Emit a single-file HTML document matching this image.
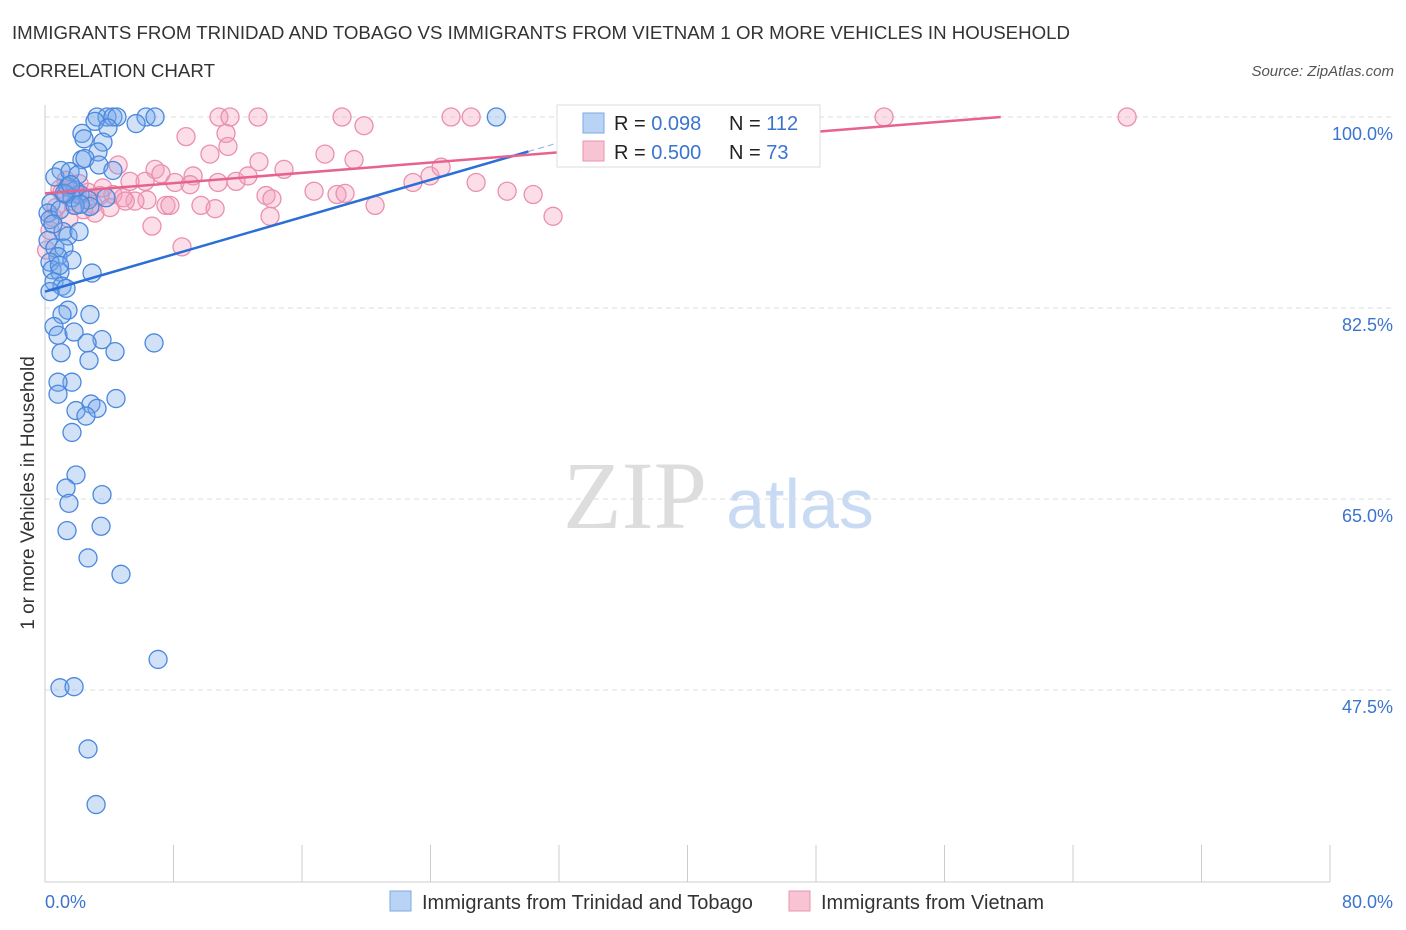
<!DOCTYPE html>
<html><head><meta charset="utf-8"><style>
body{margin:0;background:#fff;font-family:"Liberation Sans",sans-serif;}
svg{display:block}
</style></head><body>
<svg id="c" width="1406" height="930" xmlns="http://www.w3.org/2000/svg">
<text x="12" y="39" font-size="18.5" fill="#333" textLength="1058" lengthAdjust="spacingAndGlyphs">IMMIGRANTS FROM TRINIDAD AND TOBAGO VS IMMIGRANTS FROM VIETNAM 1 OR MORE VEHICLES IN HOUSEHOLD</text>
<text x="12" y="77" font-size="18.5" fill="#333" textLength="203" lengthAdjust="spacingAndGlyphs">CORRELATION CHART</text>
<text x="1394" y="76" font-size="15" fill="#555" font-style="italic" text-anchor="end">Source: ZipAtlas.com</text>
<text x="635" y="528" font-size="96" fill="#ddd" font-family="Liberation Serif,serif" text-anchor="middle">ZIP</text>
<text x="800" y="528" font-size="70" fill="#c9dbf3" text-anchor="middle">atlas</text>
<g id="grid"></g><g id="axes"></g><g id="marks"></g><g id="lines"></g>
<g>
<rect x="557" y="105" width="263" height="62" fill="#fff" stroke="#ddd"/>
<rect x="583" y="113" width="21" height="20" fill="#b9d3f4" stroke="#7aa9e6"/>
<rect x="583" y="141" width="21" height="20" fill="#f8c4d3" stroke="#eb95b0"/>
<text x="614" y="130" font-size="20" fill="#222">R = <tspan fill="#3a74d0">0.098</tspan><tspan x="729">N = </tspan><tspan fill="#3a74d0">112</tspan></text>
<text x="614" y="159" font-size="20" fill="#222">R = <tspan fill="#3a74d0">0.500</tspan><tspan x="729">N = </tspan><tspan fill="#3a74d0"> 73</tspan></text>
</g>
<g>
<rect x="390" y="891" width="21" height="20" fill="#b9d3f4" stroke="#7aa9e6"/>
<text x="422" y="909" font-size="20" fill="#333">Immigrants from Trinidad and Tobago</text>
<rect x="789" y="891" width="21" height="20" fill="#f8c4d3" stroke="#eb95b0"/>
<text x="821" y="909" font-size="20" fill="#333">Immigrants from Vietnam</text>
</g>
</svg>
<script>
const blueX=[3.24,3.86,4.23,4.48,6.29,6.85,28.1,3.11,3.92,5.67,2.30,2.43,3.61,3.30,2.30,2.49,3.36,4.23,1.0,0.62,1.56,2.05,1.43,1.87,2.18,1.31,1.68,2.68,2.80,3.80,0.37,0.19,0.31,0.93,1.87,1.12,1.43,2.12,0.19,0.62,1.18,0.81,0.31,1.68,0.44,0.93,2.93,0.56,1.06,1.31,0.31,1.43,2.80,1.06,0.56,0.81,1.81,3.55,2.62,6.79,1.0,4.36,2.74,1.68,0.81,0.81,4.42,2.86,3.24,1.93,2.55,1.68,1.93,1.31,3.55,1.49,1.37,3.49,2.68,4.73,7.04,0.93,1.81,2.68,3.18,1.2,1.6,2.2,0.5,0.9];
const blueY=[100,100,100,100,100,100,100,99.6,99.0,99.4,98.5,98.0,97.7,96.8,96.1,96.2,95.6,95.1,95.1,94.5,95.0,94.7,93.6,93.3,92.9,92.9,92.6,92.4,91.8,92.6,92.1,91.2,90.6,91.5,91.9,89.5,89.1,89.5,88.7,88.0,88.0,87.2,86.7,86.9,86.0,85.8,85.7,84.9,84.5,84.3,84.0,82.3,81.9,81.9,80.8,80.0,80.3,79.6,79.3,79.3,78.4,78.5,77.7,75.7,75.7,74.6,74.2,73.7,73.3,73.1,72.6,71.1,67.2,66.0,65.4,64.6,62.1,62.5,59.6,58.1,50.3,47.7,47.8,42.1,37.0,93.0,93.8,92.0,90.2,86.4];
const pinkX=[10.83,11.52,13.26,18.49,25.28,26.53,43.15,52.24,67.37,8.78,11.27,11.39,19.86,10.27,13.32,17.43,19.24,14.88,4.55,6.85,7.22,9.22,11.89,12.64,10.77,8.09,6.23,5.29,9.03,22.91,23.97,24.66,26.84,28.77,30.39,16.75,18.18,18.68,13.76,14.13,7.53,7.78,6.35,5.60,4.23,3.42,1.31,0.93,2.68,2.99,1.81,0.68,1.49,9.71,10.59,14.01,20.55,31.63,6.66,8.53,3.11,4.05,4.86,2.12,1.06,0.31,0.1,2.0,3.6,5.0,1.7,0.5,2.4];
const pinkY=[100,100,100,100,100,100,100,100,100,98.2,98.5,97.3,99.2,96.6,95.9,96.6,96.1,95.2,95.6,95.2,94.8,94.6,94.1,94.6,94.0,94.0,94.1,94.1,93.8,94.0,94.6,95.4,94.0,93.2,92.9,93.2,92.9,93.0,92.8,92.5,91.9,91.9,92.4,92.3,92.9,92.8,94.2,93.4,93.1,92.0,91.9,91.7,90.7,91.9,91.6,90.9,91.9,90.9,90.0,88.1,91.2,91.7,92.6,93.9,93.1,89.6,87.8,92.9,93.5,92.3,93.4,90.8,91.5];
const blueLine=[[0,84.0],[37.5,100]];
const pinkLine=[[0,93.0],[59.5,100]];
const yTicks=[100,82.5,65,47.5];
const yTickLabels=["100.0%","82.5%","65.0%","47.5%"];
const xTickLabels=["0.0%","80.0%"];
const NS="http://www.w3.org/2000/svg";
const X=v=>45+v*16.0625, Y=v=>117+(100-v)*10.914;
function mk(t,a,p){const e=document.createElementNS(NS,t);for(const k in a)e.setAttribute(k,a[k]);document.getElementById(p).appendChild(e);return e;}
yTicks.forEach((t,i)=>{
 let g=mk('line',{x1:45,x2:1395,y1:Y(t),y2:Y(t),stroke:'#ddd','stroke-dasharray':'5,4'},'grid');
 
 
 let l=mk('text',{x:1393,y:Y(t)+23,'font-size':18,fill:'#3a74d0','text-anchor':'end'},'axes');l.textContent=yTickLabels[i];
 
 
});
let ax=mk('line',{x1:45,x2:1330,y1:882,y2:882,stroke:'#ccc'},'axes');


let ay=mk('line',{x1:45,x2:45,y1:105,y2:882,stroke:'#ccc'},'axes');


for(let i=0;i<=10;i++){let t=mk('line',{x1:X(i*8),x2:X(i*8),y1:845,y2:882,stroke:'#ccc'},'axes');
 
 }
[[0,'start',45],[80,'end',1393]].forEach((d,i)=>{let l=mk('text',{x:d[2],y:908,'font-size':18,fill:'#3a74d0','text-anchor':d[1]},'axes');l.textContent=xTickLabels[i];
 
 });
let yt=mk('text',{x:0,y:0,'font-size':19,fill:'#333','text-anchor':'middle',transform:'translate(34,493) rotate(-90)'},'axes');yt.textContent='1 or more Vehicles in Household';


pinkX.forEach((v,i)=>{let c=mk('circle',{cx:X(v),cy:Y(pinkY[i]),r:9,fill:'rgba(244,160,188,0.35)',stroke:'#ea8fae','stroke-width':1.3},'marks');
 
 });
blueX.forEach((v,i)=>{let c=mk('circle',{cx:X(v),cy:Y(blueY[i]),r:9,fill:'rgba(120,170,235,0.35)',stroke:'#4a88dd','stroke-width':1.3},'marks');
 
 });
const bx=30.1, by=blueLine[0][1]+(blueLine[1][1]-blueLine[0][1])*bx/blueLine[1][0];
let bl=mk('line',{x1:X(blueLine[0][0]),y1:Y(blueLine[0][1]),x2:X(bx),y2:Y(by),stroke:'#2a6fd6','stroke-width':2.5},'lines');


let bd=mk('line',{x1:X(bx),y1:Y(by),x2:X(blueLine[1][0]),y2:Y(blueLine[1][1]),stroke:'#9bbbe8','stroke-width':1.2,'stroke-dasharray':'6,4'},'lines');


let pl=mk('line',{x1:X(pinkLine[0][0]),y1:Y(pinkLine[0][1]),x2:X(pinkLine[1][0]),y2:Y(pinkLine[1][1]),stroke:'#e8628e','stroke-width':2.5},'lines');


</script>
</body></html>
